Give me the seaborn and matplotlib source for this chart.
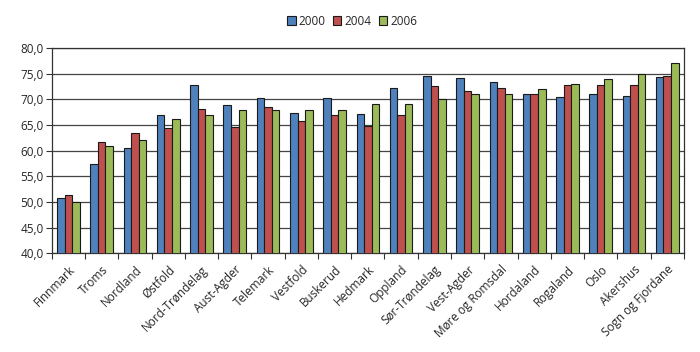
import matplotlib
matplotlib.use("Agg")
import matplotlib.pyplot as plt
import matplotlib.ticker as mticker
import matplotlib.transforms as mtransforms
import seaborn as sns
import pandas as pd

counties = ["Finnmark", "Troms", "Nordland", "Østfold", "Nord-Trøndelag", "Aust-Agder",
            "Telemark", "Vestfold", "Buskerud", "Hedmark", "Oppland", "Sør-Trøndelag",
            "Vest-Agder", "Møre og Romsdal", "Hordaland", "Rogaland", "Oslo", "Akershus",
            "Sogn og Fjordane"]
v2000 = [50.8, 57.5, 60.5, 67.0, 72.7, 68.9, 70.2, 67.4, 70.2, 67.2, 72.1, 74.6,
         74.2, 73.3, 71.0, 70.4, 71.1, 70.7, 74.4]
v2004 = [51.3, 61.6, 63.5, 64.4, 68.2, 64.6, 68.5, 65.7, 66.9, 64.8, 67.0, 72.5,
         71.6, 72.2, 71.1, 72.7, 72.7, 72.7, 74.6]
v2006 = [50.0, 61.0, 62.0, 66.1, 67.0, 68.0, 68.0, 68.0, 68.0, 69.0, 69.0, 70.0,
         71.0, 71.0, 72.0, 73.0, 74.0, 75.0, 77.1]
years = ["2000", "2004", "2006"]
colors = ["#4F81BD", "#C0504D", "#9BBB59"]
yticks = [40, 45, 50, 55, 60, 65, 70, 75, 80]

rows = []
for yr, vals in zip(years, [v2000, v2004, v2006]):
    for c, v in zip(counties, vals):
        rows.append({"county": c, "year": yr, "value": v})
df = pd.DataFrame(rows)

sns.set_theme(style="white")
plt.rcParams["font.family"] = ["Open Sans", "DejaVu Sans"]

fig = plt.figure(figsize=(7.0, 3.52), dpi=100)
ax = fig.add_axes([0.074, 0.280, 0.903, 0.584])

sns.barplot(data=df, x="county", y="value", hue="year", order=counties,
            hue_order=years, palette=colors, width=0.68, gap=0,
            edgecolor="#1a1a1a", linewidth=0.8, saturation=1, ax=ax, zorder=3)

ax.set_ylim(40, 80)
ax.set_xlim(-0.5, len(counties) - 0.5)
ax.set_yticks(yticks)
ax.yaxis.set_major_formatter(mticker.FuncFormatter(lambda v, p: f"{v:.1f}".replace(".", ",")))
ax.yaxis.grid(True, color="#444444", linewidth=0.9, zorder=0)
ax.set_axisbelow(True)
ax.set_xlabel("")
ax.set_ylabel("")

ax.set_xticks(range(len(counties)))
ax.set_xticklabels(counties, rotation=45, ha="right", rotation_mode="anchor", fontsize=8.5)
ax.tick_params(axis="x", which="major", length=0, pad=7)
offset = mtransforms.ScaledTranslation(0 / 100, 0, fig.dpi_scale_trans)
for lab in ax.get_xticklabels():
    lab.set_transform(lab.get_transform() + offset)
ax.set_xticks([i - 0.5 for i in range(len(counties) + 1)], minor=True)
ax.tick_params(axis="x", which="minor", length=4, width=0.8, color="#333333", direction="out", bottom=True)
ax.tick_params(axis="y", length=4, width=0.8, color="#333333", direction="out", left=True, labelsize=8.5, pad=2)

for s in ["left", "bottom", "top", "right"]:
    ax.spines[s].set_visible(True)
    ax.spines[s].set_color("#333333")
    ax.spines[s].set_linewidth(0.9)

leg = ax.legend(loc="center", bbox_to_anchor=(0.475, 1.13), ncol=3, frameon=False,
                fontsize=8.5, handlelength=0.75, handleheight=0.75, handletextpad=0.25,
                columnspacing=0.6, borderaxespad=0)
for h in leg.legend_handles:
    h.set_edgecolor("#1a1a1a")
    h.set_linewidth(0.8)

fig.savefig("out.png", dpi=100)
